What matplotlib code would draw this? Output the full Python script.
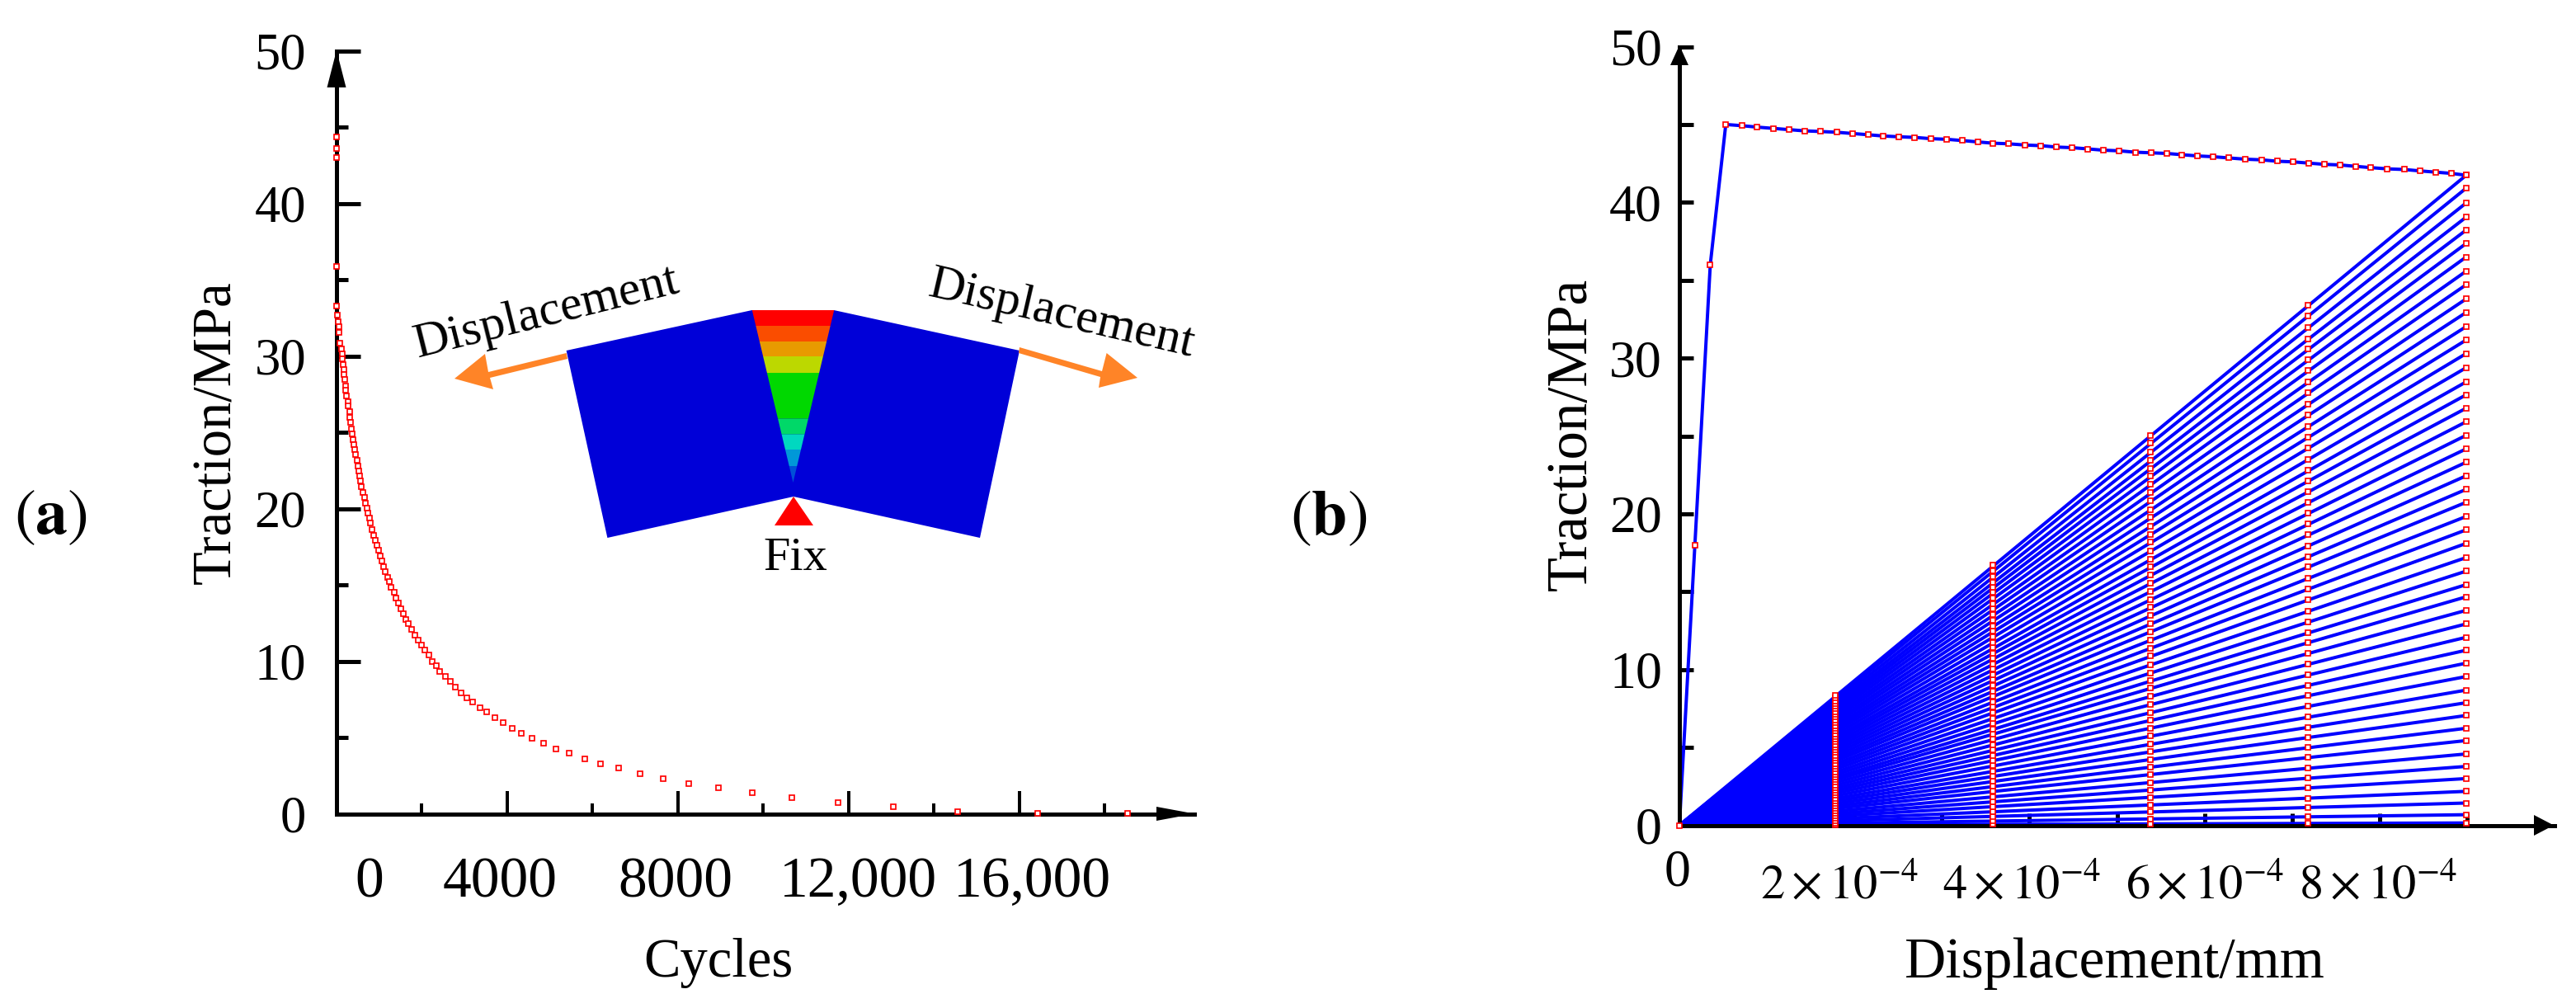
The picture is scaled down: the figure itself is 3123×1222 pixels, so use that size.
import numpy as np
import matplotlib
matplotlib.use("Agg")
import matplotlib.pyplot as plt
from matplotlib.patches import Polygon

plt.rcParams['font.family'] = ['Liberation Serif', 'DejaVu Sans']
plt.rcParams['mathtext.fontset'] = 'stix'

W, H = 3123, 1222
PT = 0.72  # one pixel in points at dpi 100

# (a) traction against cycles
cycles = [0, 0, 0, 0,
          7, 19, 32, 52, 65, 84, 110, 129, 129, 148, 168, 168, 193, 213, 213, 232,
          264, 264, 303, 303, 329, 354, 374, 393, 412, 425, 451, 483, 496, 515, 548,
          567, 586, 625, 651, 683, 715, 741, 767, 799,
          837, 876, 908, 947, 979, 1031, 1069, 1108, 1140, 1204, 1230, 1282, 1346,
          1391, 1443, 1514, 1559, 1623, 1687, 1765, 1842, 1913, 1997, 2074, 2158,
          2248, 2338, 2422,
          2554, 2672, 2780, 2919, 3057, 3195, 3362, 3520, 3707, 3895, 4112, 4329,
          4575, 4841, 5147, 5453, 5808, 6187, 6607, 7106, 7652, 8245, 8940, 9740,
          10675, 11744, 13035, 14553, 16425, 18525]
traction_a = [44.4, 43.6, 43.0, 35.9,
              33.31, 32.72, 32.27, 31.94, 31.58, 30.86, 30.50, 30.14, 29.83, 29.47,
              29.11, 28.81, 28.45, 28.03, 27.76, 27.37, 27.04, 26.72, 26.36, 26.00,
              25.64, 25.24, 24.91, 24.55, 24.21, 23.89, 23.56, 23.15, 22.81, 22.48,
              22.14, 21.82, 21.46, 21.06, 20.73, 20.37, 20.05, 19.69, 19.37, 19.04,
              18.62, 18.27, 17.95, 17.61, 17.26, 16.92, 16.58, 16.20, 15.88, 15.52,
              15.21, 14.85, 14.51, 14.15, 13.82, 13.44, 13.10, 12.74, 12.45, 12.11,
              11.73, 11.41, 11.05, 10.71, 10.40, 10.00, 9.70, 9.35,
              9.01, 8.68, 8.30, 7.90, 7.60, 7.33, 6.95, 6.66, 6.32, 5.98, 5.60, 5.27,
              4.97, 4.63, 4.25, 3.96, 3.58, 3.28, 2.99, 2.63, 2.32, 1.98, 1.68, 1.37,
              1.08, 0.72, 0.45, 0.13, 0.02, 0.02]
a_xticks = [0, 4000, 8000, 12000, 16000]
a_xminor = [2000, 6000, 10000, 14000, 18000]
a_xlabels = ['0', '4000', '8000', '12,000', '16,000']
a_xlabel_shift = [40, -9, -3, 11, 15]  # labels sit off their ticks in the original

# (b) traction against displacement, displacement in 1e-4 mm
envelope_x = [0, 0.177, 0.353, 0.53, 0.72, 0.89, 1.07, 1.25, 1.43, 1.61, 1.80, 1.98, 2.16,
              2.33, 2.51, 2.69, 2.87, 3.05, 3.23, 3.41, 3.58, 3.76, 3.95, 4.13, 4.31,
              4.49, 4.67, 4.84, 5.02, 5.21, 5.39, 5.57, 5.74, 5.92, 6.10, 6.28, 6.47,
              6.65, 6.83, 7.01, 7.19, 7.37, 7.55, 7.73, 7.90, 8.09, 8.28, 8.46, 8.64,
              8.82, 8.99]
envelope_y = [0, 18, 36, 45.0, 44.92, 44.83, 44.75, 44.67, 44.59, 44.55, 44.50, 44.42, 44.34,
              44.26, 44.21, 44.17, 44.09, 44.05, 43.97, 43.88, 43.8, 43.76, 43.68, 43.64,
              43.55, 43.51, 43.43, 43.35, 43.31, 43.22, 43.18, 43.14, 43.06, 42.98, 42.93,
              42.85, 42.77, 42.73, 42.64, 42.60, 42.52, 42.44, 42.40, 42.31, 42.23, 42.15,
              42.11, 42.02, 41.94, 41.86, 41.74]
fan_end = [0.15, 0.68, 1.43, 2.18, 3.0, 3.78, 4.58, 5.44, 6.23, 7.05, 7.87, 8.68, 9.55,
           10.41, 11.24, 12.07, 12.93, 13.8, 14.67, 15.45, 16.32, 17.19, 18.1, 18.97,
           19.83, 20.74, 21.57, 22.44, 23.31, 24.17, 25.04, 25.91, 26.78, 27.64, 28.47,
           29.38, 30.29, 31.16, 32.02, 32.93, 33.8, 34.71, 35.58, 36.49, 37.36, 38.22,
           39.05, 39.96, 40.91, 41.74]
column_x = [1.78, 3.58, 5.38, 7.18, 8.99]
column_frac = [0.2, 0.4, 0.6, 0.8, 1.0]
b_xticks = [2, 4, 6, 8]
b_xminor = [1, 3, 5, 7, 9]
b_xlabels = [r'$\mathrm{2\times10^{-4}}$', r'$\mathrm{4\times10^{-4}}$',
             r'$\mathrm{6\times10^{-4}}$', r'$\mathrm{8\times10^{-4}}$']
b_xlabel_shift = [-18, -9, 0, -2]

y_major = [0, 10, 20, 30, 40, 50]
y_minor = [5, 15, 25, 35, 45]

# schematic in panel (a), pixel coordinates of the figure
block_outline = [(911.7, 376), (686.6, 425), (736.4, 652), (962, 602),
                 (1188, 652), (1236, 425), (1011, 376)]
band_rows = [376, 395, 414, 432, 452, 507.7, 526.7, 545, 565, 585]
band_colors = ['#ff0000', '#fa4d00', '#e89a00', '#bcd800', '#00d800',
               '#00d868', '#00d8c0', '#0098d8', '#0050d8']
support = [(962, 602), (939, 637), (986, 637)]
pull_left = [(686.6, 428), (592, 451), (588, 429), (551, 459), (598, 472), (594, 458), (688, 435)]
pull_right = [(1236, 421), (1336, 450), (1341.6, 428), (1379, 458), (1332, 470), (1334, 457), (1235, 428)]

marker = dict(ls='none', marker='s', ms=5.6 * PT, mfc='white', mec='#ff0000',
              mew=1.7 * PT, clip_on=False, zorder=4)


def px_axes(x0, x1, y_top, y_bottom):
    ax = fig.add_axes([x0 / W, 1 - y_bottom / H, (x1 - x0) / W, (y_bottom - y_top) / H])
    ax.patch.set_alpha(0)
    for side in ['top', 'right']:
        ax.spines[side].set_visible(False)
    for side in ['left', 'bottom']:
        ax.spines[side].set_linewidth(5 * PT)
    return ax


fig = plt.figure(figsize=(W / 100, H / 100), dpi=100, facecolor='white')

# panel (a)
ax1 = px_axes(408, 1448, 62, 986.5)
ax1.plot(cycles, traction_a, **marker)
ax1.set_xlim(0, 20097)
ax1.set_ylim(0, 50)
ax1.set_yticks(y_major)
ax1.set_yticks(y_minor, minor=True)
ax1.set_xticks(a_xticks)
ax1.set_xticks(a_xminor, minor=True)
ax1.set_xticklabels([])
ax1.tick_params(axis='y', which='major', direction='in', length=29 * PT, width=5 * PT,
                labelsize=45, pad=37 * PT)
ax1.tick_params(axis='y', which='minor', direction='in', length=14 * PT, width=5 * PT)
ax1.tick_params(axis='x', which='major', direction='in', length=28 * PT, width=4 * PT)
ax1.tick_params(axis='x', which='minor', direction='in', length=13 * PT, width=4 * PT)
for tick, lab, dx in zip(a_xticks, a_xlabels, a_xlabel_shift):
    ax1.annotate(lab, xy=(tick, 0), xytext=(dx * PT, -101 * PT), textcoords='offset points',
                 ha='center', va='baseline', fontsize=50)

# panel (b)
ax2 = px_axes(2036, 3097, 56.5, 1000.5)
for end in fan_end:
    ax2.plot([0, column_x[-1]], [0, end], color='#0000ff', lw=4 * PT, zorder=2)
ax2.plot(envelope_x, envelope_y, color='#0000ff', lw=4 * PT, zorder=2)
ax2.plot(envelope_x, envelope_y, **marker)
for cx, frac in zip(column_x, column_frac):
    ax2.plot([cx] * len(fan_end), np.array(fan_end) * frac, **marker)
ax2.set_xlim(0, 10)
ax2.set_ylim(0, 50)
ax2.set_yticks(y_major)
ax2.set_yticks(y_minor, minor=True)
ax2.set_xticks(b_xticks)
ax2.set_xticks(b_xminor, minor=True)
ax2.set_xticklabels([])
ax2.tick_params(axis='y', which='major', direction='in', length=17 * PT, width=5 * PT,
                labelsize=46, pad=21 * PT)
ax2.tick_params(axis='y', which='minor', direction='in', length=17 * PT, width=5 * PT)
ax2.tick_params(axis='x', which='both', direction='in', length=15 * PT, width=5 * PT)
for tick, lab, dx in zip(b_xticks, b_xlabels, b_xlabel_shift):
    ax2.annotate(lab, xy=(tick, 0), xytext=(dx * PT, -89.5 * PT), textcoords='offset points',
                 ha='center', va='baseline', fontsize=42)
ax2.annotate('0', xy=(0, 0), xytext=(-2 * PT, -73.5 * PT), textcoords='offset points',
             ha='center', va='baseline', fontsize=46)

# everything placed by pixel: arrows, schematic, free labels
over = fig.add_axes([0, 0, 1, 1], zorder=5)
over.set_xlim(0, W)
over.set_ylim(H, 0)
over.axis('off')
over.patch.set_alpha(0)

for pts in ([(396.5, 106), (408, 61), (419.5, 106)],
            [(1402, 978), (1448, 986.5), (1402, 995)],
            [(2025, 79), (2036, 55), (2047, 79)],
            [(3072, 988), (3096, 1000.5), (3072, 1013)]):
    over.add_patch(Polygon(pts, closed=True, fc='black', ec='none'))

over.add_patch(Polygon(block_outline, closed=True, fc='#0000d8', ec='none'))
top_y, tip_y, mid_x, half_w = 376, 585, 961.5, 49.7
for y0, y1, col in zip(band_rows[:-1], band_rows[1:], band_colors):
    w0 = half_w * (tip_y - y0) / (tip_y - top_y)
    w1 = half_w * (tip_y - y1) / (tip_y - top_y)
    over.add_patch(Polygon([(mid_x - w0, y0), (mid_x + w0, y0), (mid_x + w1, y1), (mid_x - w1, y1)],
                           closed=True, fc=col, ec='none'))
over.add_patch(Polygon(support, closed=True, fc='#ff0000', ec='none'))
over.add_patch(Polygon(pull_left, closed=True, fc='#ff8427', ec='none'))
over.add_patch(Polygon(pull_right, closed=True, fc='#ff8427', ec='none'))

over.text(964, 677, 'Fix', fontsize=42, ha='center', va='center')
over.text(662, 380, 'Displacement', fontsize=43, rotation=14, ha='center', va='center',
          rotation_mode='anchor')
over.text(1287, 382, 'Displacement', fontsize=43, rotation=-13, ha='center', va='center',
          rotation_mode='anchor')
over.text(279, 524, 'Traction/MPa', fontsize=48, rotation=90, ha='center', va='baseline',
          rotation_mode='anchor')
over.text(1923, 526, 'Traction/MPa', fontsize=49.5, rotation=90, ha='center', va='baseline',
          rotation_mode='anchor')
over.text(871, 1167, 'Cycles', fontsize=48, ha='center', va='center')
over.text(2564, 1168, 'Displacement/mm', fontsize=50, ha='center', va='center')
over.text(61, 647, r'$\mathrm{(}\mathbf{a}\mathrm{)}$', fontsize=56, ha='center', va='baseline')
over.text(1611, 648, r'$\mathrm{(}\mathbf{b}\mathrm{)}$', fontsize=56, ha='center', va='baseline')

fig.savefig('out.png', dpi=100)
